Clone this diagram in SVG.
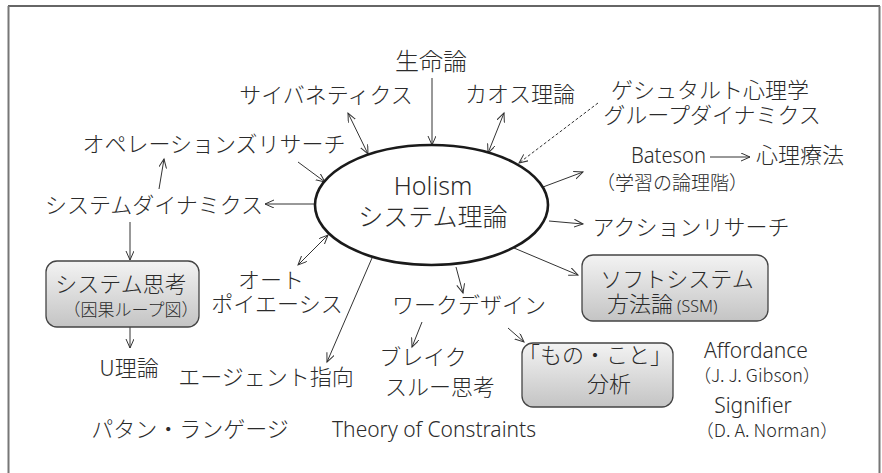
<svg xmlns="http://www.w3.org/2000/svg" width="882" height="473" viewBox="0 0 882 473">
<style>
.t{font-family:"Noto Sans CJK JP","Noto Sans",sans-serif;fill:#2b2b2b;font-size:22px;font-weight:300}
.l{font-family:"Noto Sans","Noto Sans CJK JP",sans-serif;fill:#2b2b2b;font-size:21px;font-weight:300}
.c{stroke:#333;stroke-width:1;fill:none;marker-end:url(#ah)}
.d{marker-start:url(#ah)}
.box{fill:url(#g);stroke:#444;stroke-width:1.3}
</style>
<defs>
<linearGradient id="g" x1="0" y1="0" x2="0" y2="1">
<stop offset="0" stop-color="#f3f3f3"/>
<stop offset="1" stop-color="#c4c4c4"/>
</linearGradient>
<marker id="ah" markerUnits="userSpaceOnUse" markerWidth="12" markerHeight="10" refX="9" refY="4" orient="auto-start-reverse" viewBox="0 0 12 10">
<path d="M0,0 L9,4 L0,8" fill="none" stroke="#333" stroke-width="1"/>
</marker>
</defs>
<rect width="882" height="473" fill="#fff"/>
<g id="frame">
<line x1="8" y1="6" x2="880" y2="6" stroke="#333" stroke-width="1.5"/>
<line x1="8.5" y1="6" x2="8.5" y2="473" stroke="#777" stroke-width="2"/>
<line x1="879.5" y1="6" x2="879.5" y2="473" stroke="#777" stroke-width="2"/>
</g>
<g id="connectors">
<line class="c" x1="432" y1="78" x2="432" y2="145"/>
<line class="c d" x1="348" y1="113" x2="368" y2="154"/>
<line class="c d" x1="504" y1="113" x2="488" y2="153"/>
<line class="c" x1="598" y1="103" x2="519" y2="163" stroke-dasharray="3,2"/>
<line class="c" x1="543" y1="187" x2="583" y2="172"/>
<line class="c" x1="549" y1="221" x2="583" y2="224"/>
<line class="c" x1="514" y1="248" x2="578" y2="275"/>
<line class="c" x1="456" y1="267" x2="463" y2="293"/>
<line class="c" x1="508" y1="328" x2="524" y2="342"/>
<line class="c" x1="422" y1="322" x2="412" y2="347"/>
<line class="c" x1="372" y1="258" x2="327" y2="362"/>
<line class="c d" x1="298" y1="265" x2="328" y2="235"/>
<line class="c" x1="315" y1="204" x2="265" y2="204"/>
<line class="c" x1="298" y1="162" x2="325" y2="182"/>
<line class="c" x1="159" y1="189" x2="164" y2="159"/>
<line class="c" x1="130" y1="222" x2="130" y2="260"/>
<line class="c" x1="130" y1="327" x2="130" y2="348"/>
<line class="c" x1="710" y1="157" x2="750" y2="157"/>
</g>
<g id="holism">
<ellipse cx="431.5" cy="205" rx="116.5" ry="60" fill="#fff" stroke="#1a1a1a" stroke-width="2.6"/>
<text class="l" x="433" y="195" text-anchor="middle" style="font-size:25px">Holism</text>
<text class="t" x="433" y="226" text-anchor="middle" style="font-size:25px">システム理論</text>
</g>
<g id="seimeiron"><text class="t" x="431" y="70" text-anchor="middle" style="font-size:24px">生命論</text></g>
<g id="cybernetics"><text class="t" x="326" y="103" text-anchor="middle">サイバネティクス</text></g>
<g id="chaos"><text class="t" x="520" y="102" text-anchor="middle">カオス理論</text></g>
<g id="gestalt">
<text class="t" x="710" y="98" text-anchor="middle">ゲシュタルト心理学</text>
<text class="t" x="712" y="123" text-anchor="middle">グループダイナミクス</text>
</g>
<g id="or"><text class="t" x="214" y="152" text-anchor="middle">オペレーションズリサーチ</text></g>
<g id="bateson">
<text class="l" x="631" y="163" style="font-size:22px" textLength="75" lengthAdjust="spacingAndGlyphs">Bateson</text>
<text class="t" x="672" y="190" text-anchor="middle" style="font-size:19px">（学習の論理階）</text>
</g>
<g id="psychotherapy"><text class="t" x="756" y="163">心理療法</text></g>
<g id="sd"><text class="t" x="154" y="213" text-anchor="middle">システムダイナミクス</text></g>
<g id="action"><text class="t" x="691" y="235" text-anchor="middle">アクションリサーチ</text></g>
<g id="systhinking">
<rect class="box" x="46" y="261" width="153" height="66" rx="11"/>
<text class="t" x="121" y="292" text-anchor="middle">システム思考</text>
<text class="t" x="131" y="316" text-anchor="middle" style="font-size:17px">（因果ループ図）</text>
</g>
<g id="autopoiesis">
<text class="t" x="271" y="288" text-anchor="middle">オート</text>
<text class="t" x="277" y="312" text-anchor="middle">ポイエーシス</text>
</g>
<g id="ssm">
<rect class="box" x="582" y="255" width="186" height="66" rx="11"/>
<text class="t" x="677" y="287" text-anchor="middle">ソフトシステム</text>
<text class="t" x="607" y="312">方法論<tspan class="l" style="font-size:16px" dx="4">(SSM)</tspan></text>
</g>
<g id="workdesign"><text class="t" x="469" y="313" text-anchor="middle">ワークデザイン</text></g>
<g id="monokoto">
<rect class="box" x="522" y="343" width="151" height="64" rx="11"/>
<text class="t" x="595" y="363" text-anchor="middle">「もの・こと」</text>
<text class="t" x="609" y="392" text-anchor="middle">分析</text>
</g>
<g id="breakthrough">
<text class="t" x="423" y="365" text-anchor="middle">ブレイク</text>
<text class="t" x="440" y="395" text-anchor="middle">スルー思考</text>
</g>
<g id="utheory"><text class="t" x="129" y="376" text-anchor="middle">U理論</text></g>
<g id="agent"><text class="t" x="266" y="385" text-anchor="middle">エージェント指向</text></g>
<g id="pattern"><text class="t" x="190" y="437" text-anchor="middle">パタン・ランゲージ</text></g>
<g id="toc"><text class="l" x="434" y="437" text-anchor="middle">Theory of Constraints</text></g>
<g id="affordance">
<text class="l" x="756" y="358" text-anchor="middle">Affordance</text>
<text class="t" x="757" y="382" text-anchor="middle" style="font-size:18px">（J. J. Gibson）</text>
</g>
<g id="signifier">
<text class="l" x="753" y="413" text-anchor="middle">Signifier</text>
<text class="t" x="767" y="437" text-anchor="middle" style="font-size:18px">（D. A. Norman）</text>
</g>
</svg>
